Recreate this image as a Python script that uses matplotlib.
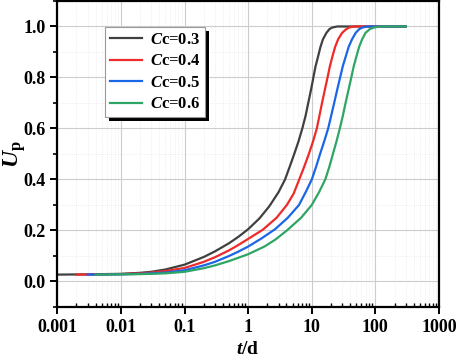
import matplotlib
matplotlib.use('Agg')
import matplotlib.pyplot as plt
from matplotlib.patches import Rectangle
from matplotlib.transforms import IdentityTransform
from matplotlib.ticker import LogLocator, MultipleLocator, FixedLocator, NullFormatter

plt.rcParams['font.family'] = ['Liberation Serif', 'DejaVu Serif']
plt.rcParams['font.weight'] = 'bold'
plt.rcParams['axes.labelweight'] = 'bold'
plt.rcParams['mathtext.fontset'] = 'custom'
plt.rcParams['mathtext.rm'] = 'Liberation Serif:bold'
plt.rcParams['mathtext.it'] = 'Liberation Serif:italic:bold'
plt.rcParams['mathtext.bf'] = 'Liberation Serif:bold'
plt.rcParams['mathtext.bfit'] = 'Liberation Serif:italic:bold'

# datos (t en dias, Up)
t_03 = [0.001, 0.003, 0.01, 0.02, 0.03, 0.05, 0.1, 0.2, 0.3, 0.5, 0.7, 1, 1.5, 2.15, 3, 3.8, 4.5, 5.3, 6.2,
        7.1, 8, 8.8, 9.7, 10.6, 11.5, 12.5, 13.7, 15, 17, 19, 21, 25, 300]
u_03 = [0.027, 0.028, 0.030, 0.034, 0.038, 0.047, 0.066, 0.096, 0.118, 0.150, 0.175, 0.205, 0.247, 0.295, 0.350,
        0.40, 0.45, 0.50, 0.55, 0.60, 0.65, 0.70, 0.75, 0.80, 0.845, 0.88, 0.92, 0.95, 0.975, 0.99, 0.996, 1.0, 1.0]

t_04 = [0.002, 0.005, 0.01, 0.02, 0.03, 0.05, 0.1, 0.2, 0.3, 0.5, 0.7, 1, 1.7, 2.8, 4.06, 5.2, 6.35, 7.6, 9,
        10.5, 12, 13.2, 14.5, 16, 17.7, 19.3, 21, 23.3, 26, 30, 35, 39, 45, 300]
u_04 = [0.027, 0.028, 0.029, 0.032, 0.035, 0.041, 0.053, 0.077, 0.095, 0.122, 0.143, 0.167, 0.203, 0.250, 0.30,
        0.345, 0.40, 0.45, 0.50, 0.55, 0.60, 0.65, 0.70, 0.75, 0.80, 0.845, 0.88, 0.92, 0.95, 0.975, 0.99, 0.996,
        1.0, 1.0]

t_05 = [0.003, 0.01, 0.02, 0.03, 0.05, 0.1, 0.2, 0.3, 0.5, 0.7, 1, 1.6, 2.65, 4.2, 6.3, 8.2, 10, 11.7, 13.5,
        15.7, 18.1, 20.2, 22.5, 25, 27.9, 30.8, 34, 38, 43, 49, 56, 63, 75, 300]
u_05 = [0.027, 0.028, 0.030, 0.032, 0.035, 0.044, 0.063, 0.077, 0.100, 0.117, 0.137, 0.168, 0.205, 0.250, 0.30,
        0.355, 0.40, 0.45, 0.50, 0.55, 0.60, 0.65, 0.70, 0.75, 0.80, 0.845, 0.88, 0.92, 0.95, 0.975, 0.99, 0.996,
        1.0, 1.0]

t_06 = [0.004, 0.01, 0.02, 0.03, 0.05, 0.1, 0.2, 0.3, 0.5, 0.7, 1, 1.8, 2.7, 4.06, 6.8, 10, 13, 16.3, 18.9,
        21.5, 24.5, 27.6, 30.8, 34, 37.7, 41.8, 45.8, 50, 55.5, 62, 70, 82, 95, 120, 300]
u_06 = [0.027, 0.028, 0.029, 0.030, 0.032, 0.038, 0.052, 0.063, 0.080, 0.093, 0.107, 0.137, 0.165, 0.20, 0.25,
        0.30, 0.35, 0.40, 0.45, 0.50, 0.55, 0.60, 0.65, 0.70, 0.75, 0.80, 0.845, 0.88, 0.92, 0.95, 0.975, 0.99,
        0.996, 1.0, 1.0]

series = [
    (t_03, u_03, '#404040', r'$\mathbfit{C}$c=0.3'),
    (t_04, u_04, '#ee2a2a', r'$\mathbfit{C}$c=0.4'),
    (t_05, u_05, '#1a66e6', r'$\mathbfit{C}$c=0.5'),
    (t_06, u_06, '#2ea565', r'$\mathbfit{C}$c=0.6'),
]

fig = plt.figure(figsize=(4.57, 3.64), dpi=100)
ax = fig.add_axes([0.1254, 0.1566, 0.8352, 0.8407])

for t, u, c, lab in series:
    ax.plot(t, u, color=c, lw=1.6, label=lab, solid_joinstyle='round')

ax.set_xscale('log')
ax.set_xlim(0.001, 1000)
ax.set_ylim(-0.1, 1.1)

ax.xaxis.set_major_locator(FixedLocator([0.001, 0.01, 0.1, 1, 10, 100, 1000]))
ax.set_xticklabels(['0.001', '0.01', '0.1', '1', '10', '100', '1000'])
ax.xaxis.set_minor_locator(LogLocator(base=10, subs=range(2, 10), numticks=20))
ax.xaxis.set_minor_formatter(NullFormatter())
ax.yaxis.set_major_locator(FixedLocator([0.0, 0.2, 0.4, 0.6, 0.8, 1.0]))
ax.yaxis.set_minor_locator(MultipleLocator(0.1))

ax.grid(which='major', color='#cccccc', lw=0.8)
ax.grid(which='minor', color='#e4e4e4', lw=0.5, ls=':')
ax.set_axisbelow(True)

for s in ax.spines.values():
    s.set_linewidth(1.6)
ax.tick_params(which='major', direction='out', length=5, width=1.4, labelsize=13)
ax.tick_params(axis='y', which='minor', direction='out', length=3, width=1.2)
ax.tick_params(axis='x', which='minor', direction='in', length=3, width=1.0)

ax.set_xlabel(r'$\mathbfit{t}$/d', fontsize=14, labelpad=4)
ax.set_ylabel(r'$\mathbfit{U}_{\mathbf{p}}$', fontsize=17)
ax.yaxis.set_label_coords(-0.078, 0.5)

leg = ax.legend(loc='upper left', bbox_to_anchor=(0.125, 0.915), borderaxespad=0,
                fontsize=12, frameon=True, fancybox=False, framealpha=1,
                edgecolor='#999999', handlelength=1.9, labelspacing=0.33,
                borderpad=0.3, handletextpad=0.5)
leg.get_frame().set_linewidth(0.8)

# sombra negra de la leyenda
fig.canvas.draw()
bb = leg.get_window_extent()
ax.add_patch(Rectangle((bb.x0 + 4, bb.y0 - 4), bb.width, bb.height, transform=IdentityTransform(),
                       facecolor='black', edgecolor='none', zorder=4.9, clip_on=False))

fig.savefig('out.png', dpi=100)
